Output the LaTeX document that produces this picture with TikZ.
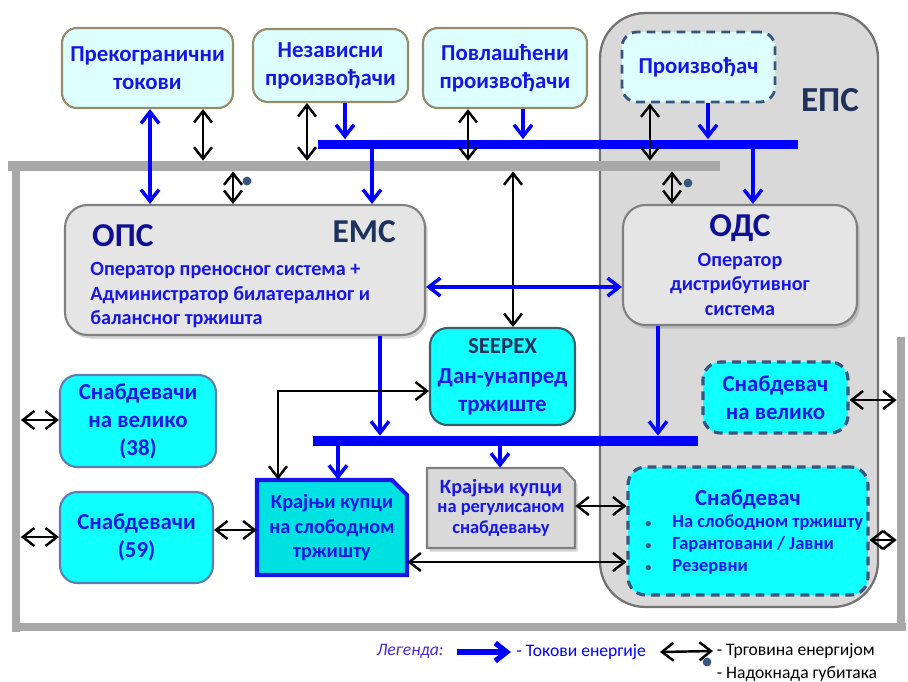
\documentclass[tikz,border=0pt]{standalone}
\usepackage{fontspec}
\setmainfont{Carlito}
\usepackage{tikz}
\usetikzlibrary{arrows.meta}
\usetikzlibrary{shadows}
\definecolor{txtblue}{RGB}{22,22,230}
\definecolor{hdblue}{RGB}{15,15,150}
\definecolor{navy}{RGB}{31,50,92}
\definecolor{flowblue}{RGB}{0,0,255}
\definecolor{lcyan}{RGB}{222,255,255}
\definecolor{khaki}{RGB}{150,140,105}
\definecolor{cyfill}{RGB}{16,255,255}
\definecolor{tealfill}{RGB}{0,226,226}
\definecolor{boxgray}{RGB}{229,229,229}
\definecolor{epsgray}{RGB}{217,217,217}
\definecolor{framegray}{RGB}{168,168,168}
\definecolor{dashnavy}{RGB}{55,85,125}
\definecolor{sborder}{RGB}{95,125,175}
\definecolor{seeborder}{RGB}{55,95,105}
\definecolor{legviolet}{RGB}{70,40,220}
\newcommand{\bxfont}{\bfseries\fontsize{13}{16}\selectfont}
\newcommand{\mdfont}{\bfseries\fontsize{11.5}{14}\selectfont}
\newcommand{\smfont}{\bfseries\fontsize{10.5}{12.5}\selectfont}
\newcommand{\hdfont}{\bfseries\fontsize{19}{22}\selectfont}
\newcommand{\lgfont}{\fontsize{10}{12}\selectfont}
\newcommand{\blt}{\makebox[0.54cm][l]{\textcolor{dashnavy}{\fontsize{7}{7}\selectfont•}}}

\begin{document}
\begin{tikzpicture}[x=0.02cm,y=-0.02cm,>={Straight Barb[length=2.3mm,width=3.6mm]},
	bar/.style={rectangle,fill=framegray,inner sep=0pt},
	bus/.style={rectangle,fill=flowblue,inner sep=0pt},
	topbox/.style={rectangle,rounded corners=0.3cm,draw=khaki,line width=1.2pt,fill=lcyan,text=txtblue,font=\bxfont,align=center,inner sep=0pt},
	genbox/.style={topbox,draw=dashnavy,dashed,dash pattern=on 5pt off 3.5pt,line width=1.6pt},
	graybox/.style={rectangle,rounded corners=0.45cm,draw=gray,line width=1.2pt,fill=boxgray,drop shadow={opacity=0.35,shadow xshift=1.5pt,shadow yshift=-2pt},text=txtblue,align=center,inner sep=0pt},
	cyanbox/.style={rectangle,rounded corners=0.35cm,draw=sborder,line width=1.2pt,fill=cyfill,text=txtblue,font=\bxfont,align=center,inner sep=0pt},
	supbox/.style={cyanbox,draw=dashnavy,dashed,dash pattern=on 5pt off 3.5pt,line width=1.8pt},
	flow/.style={->,draw=flowblue,line width=2pt},
	trade/.style={<->,line width=1.4pt},
	lossdot/.style={circle,fill=dashnavy,inner sep=0pt,minimum size=5pt}]
	\useasboundingbox(0,0)rectangle(908,681);
	\node[rectangle,rounded corners=0.9cm,draw=gray!90!black,line width=1.3pt,fill=epsgray,minimum width=5.56cm,minimum height=11.88cm](eps)at(739,310){};
	\node[font=\bfseries\fontsize{20}{24}\selectfont,text=navy](epst)at(830,100){ЕПС};
	\node[bar,minimum width=14.24cm,minimum height=0.2cm](gtop)at(364,166){};
	\node[bar,minimum width=0.18cm,minimum height=9.42cm](gleft)at(16,396.5){};
	\node[bar,minimum width=17.88cm,minimum height=0.16cm](gbot)at(459,627){};
	\node[bar,minimum width=0.16cm,minimum height=5.88cm](gright)at(901,484){};
	\node[bus,minimum width=9.6cm,minimum height=0.18cm](bus1)at(558,144){};
	\node[bus,minimum width=7.7cm,minimum height=0.2cm](bus2)at(505.5,441){};
	\filldraw[fill=tealfill,draw=txtblue,line width=2.4pt,line join=miter](257,480)--(392,480)--(407,495)--(407,575)--(257,575)--cycle;
	\filldraw[fill=epsgray,draw=gray,line width=1.2pt,drop shadow={opacity=0.35,shadow xshift=1.5pt,shadow yshift=-2pt}](427,468)--(563,468)--(575,481)--(575,548)--(427,548)--cycle;
	\node[topbox,minimum width=3.42cm,minimum height=1.6cm](prek)at(147.5,68){Прекогранични\\токови};
	\node[topbox,minimum width=3.1cm,minimum height=1.46cm](nez)at(330.5,65.5){Независни\\произвођачи};
	\node[topbox,minimum width=3.28cm,minimum height=1.6cm](povl)at(505,68){Повлашћени\\произвођачи};
	\node[genbox,minimum width=3.06cm,minimum height=1.4cm](gen)at(698.5,67){Произвођач};
	\node[graybox,minimum width=7.2cm,minimum height=2.6cm](ops)at(245,270){};
	\node[font=\hdfont,text=hdblue,anchor=west](opst)at(86,236){ОПС};
	\node[font=\hdfont,text=navy,anchor=east](emst)at(402,232){ЕМС};
	\node[font=\mdfont,text=txtblue,align=left,anchor=north west,inner sep=0pt](opsd)at(90,262){Оператор преносног система +\\Администратор билатералног и\\балансног тржишта};
	\node[graybox,minimum width=4.68cm,minimum height=2.4cm,font=\mdfont](ods)at(740,265){{\hdfont\color{hdblue}ОДС}\\[3pt]Оператор\\дистрибутивног\\система};
	\node[cyanbox,draw=seeborder,minimum width=2.9cm,minimum height=1.94cm](seepex)at(502.5,376.5){\textcolor{navy}{SEEPEX}\\[1pt]Дан-унапред\\тржиште};
	\node[cyanbox,minimum width=3.12cm,minimum height=1.84cm](sv38)at(138,421){Снабдевачи\\на велико\\(38)};
	\node[cyanbox,minimum width=3.06cm,minimum height=1.82cm](s59)at(136.5,537.5){Снабдевачи\\(59)};
	\node[font=\mdfont,text=txtblue,align=center,minimum width=3cm,minimum height=1.9cm,inner sep=0pt](kkf)at(332,527.5){Крајњи купци\\на слободном\\тржишту};
	\node[text=txtblue,align=center,minimum width=2.96cm,minimum height=1.6cm,inner sep=0pt](kkr)at(501,508){{\mdfont Крајњи купци}\\[-1pt]{\smfont на регулисаном}\\{\smfont снабдевању}};
	\node[supbox,minimum width=2.9cm,minimum height=1.42cm](svel)at(775.5,397.5){Снабдевач\\на велико};
	\node[supbox,minimum width=4.8cm,minimum height=2.56cm](snab)at(748,531){};
	\node[font=\bxfont,text=txtblue](snabt)at(748,499){Снабдевач};
	\node[font=\smfont,text=txtblue,align=left,anchor=north west,inner sep=0pt](snabl)at(645,514){\blt На слободном тржишту\\\blt Гарантовани / Јавни\\\blt Резервни};
	\node[lossdot](ld1)at(247,181){};
	\node[lossdot](ld2)at(688,183){};
	\draw[flow,<->](prek.south -| 150,0)--(ops.north -| 150,0);
	\draw[trade](prek.south -| 203,0)--(gtop.north -| 203,0);
	\draw[trade](nez.south -| 307,0)--(gtop.north -| 307,0);
	\draw[flow](nez.south -| 345,0)--(bus1.north -| 345,0);
	\draw[flow](bus1.south -| 372,0)--(ops.north -| 372,0);
	\draw[trade](gtop.south -| 233,0)--(ops.north -| 233,0);
	\draw[trade](povl.south -| 468,0)--(gtop.north -| 468,0);
	\draw[flow](povl.south -| 523,0)--(bus1.north -| 523,0);
	\draw[trade](gtop.south -| 513,0)--(seepex.north -| 513,0);
	\draw[trade](gen.south -| 650,0)--(gtop.north -| 650,0);
	\draw[flow](gen.south -| 708,0)--(bus1.north -| 708,0);
	\draw[flow](bus1.south -| 753,0)--(ods.north -| 753,0);
	\draw[trade](gtop.south -| 672,0)--(ods.north -| 672,0);
	\draw[flow,<->](ops.east |- 0,287)--(ods.west |- 0,287);
	\draw[flow](ops.south -| 380,0)--(bus2.north -| 380,0);
	\draw[flow](ods.south -| 658,0)--(bus2.north -| 658,0);
	\draw[flow](bus2.south -| 338,0)--(kkf.north -| 338,0);
	\draw[flow](bus2.south -| 500,0)--(kkr.north -| 500,0);
	\draw[trade](kkf.north -| 278,0)|-(seepex.west |- 0,391);
	\draw[trade](s59.east |- 0,530)--(kkf.west |- 0,530);
	\draw[trade](gleft.east |- 0,420)--(sv38.west |- 0,420);
	\draw[trade](gleft.east |- 0,537)--(s59.west |- 0,537);
	\draw[trade](kkr.east |- 0,506)--(snab.west |- 0,506);
	\draw[trade](kkf.east |- 0,562)--(snab.west |- 0,562);
	\draw[trade](svel.east |- 0,400)--(gright.west |- 0,400);
	\draw[trade](snab.east |- 0,540)--(gright.west |- 0,540);
	\node[font=\lgfont\itshape,text=legviolet](lgd)at(410,651){Легенда:};
	\coordinate(lfa)at(457,652);
	\node[font=\lgfont,text=flowblue,anchor=west,inner sep=3pt](lfl)at(511,652){- Токови енергије};
	\draw[flow,line width=3pt](lfa)--(lfl.west);
	\coordinate(lta)at(660,652);
	\node[font=\lgfont,anchor=west,inner sep=2pt](ltl)at(713,651){- Трговина енергијом};
	\draw[trade](lta)--(ltl.west);
	\node[lossdot](ld3)at(707,662){};
	\node[font=\lgfont,anchor=west,inner sep=2pt](lll)at(713,674){- Надокнада губитака};
\end{tikzpicture}
\end{document}
